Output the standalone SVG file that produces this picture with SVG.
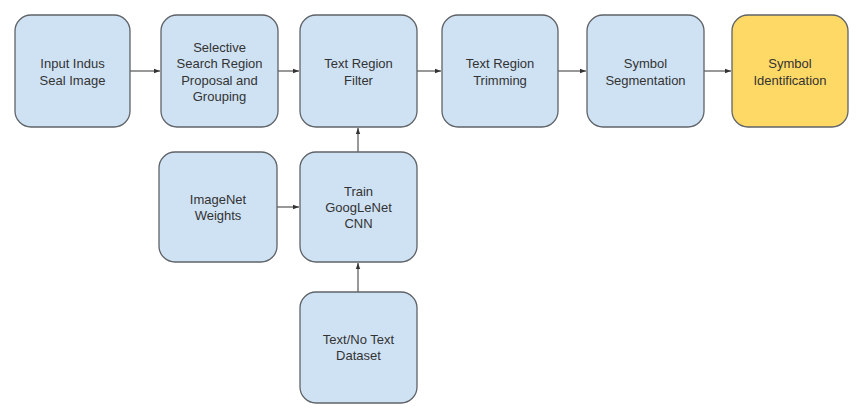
<svg xmlns="http://www.w3.org/2000/svg" width="868" height="410" viewBox="0 0 868 410">
<style>
.box{fill:#cfe2f3;stroke:#5f6368;stroke-width:1.3}
.yel{fill:#ffd966;stroke:#5f6368;stroke-width:1.3}
text{font-family:"Liberation Sans",Arial,sans-serif;font-size:13px;fill:#333;text-anchor:middle}
.c{stroke:#333;stroke-width:1;fill:none;marker-end:url(#ah)}
</style>
<defs>
<marker id="ah" viewBox="0 0 6 6" refX="6" refY="3" markerWidth="6" markerHeight="6" orient="auto" markerUnits="userSpaceOnUse">
<path d="M0,0.8 L6,3 L0,5.2 z" fill="#333"/>
</marker>
</defs>
<g id="connectors">
<line class="c" x1="130" y1="71" x2="160" y2="71"/>
<line class="c" x1="278" y1="71" x2="299" y2="71"/>
<line class="c" x1="417" y1="71" x2="441" y2="71"/>
<line class="c" x1="558" y1="71" x2="586" y2="71"/>
<line class="c" x1="704" y1="71" x2="731" y2="71"/>
<line class="c" x1="277" y1="207" x2="299" y2="207"/>
<line class="c" x1="358" y1="152" x2="358" y2="128"/>
<line class="c" x1="358" y1="292" x2="358" y2="263"/>
</g>
<g id="n1"><rect class="box" x="15" y="15" width="115" height="112" rx="16"/><text x="72.5" y="68">Input Indus</text><text x="72.5" y="84.5">Seal Image</text></g>
<g id="n2"><rect class="box" x="161" y="15" width="117" height="112" rx="16"/><text x="219.5" y="52">Selective</text><text x="219.5" y="68">Search Region</text><text x="219.5" y="84.5">Proposal and</text><text x="219.5" y="101">Grouping</text></g>
<g id="n3"><rect class="box" x="300" y="15" width="117" height="112" rx="16"/><text x="358.5" y="68">Text Region</text><text x="358.5" y="84.5">Filter</text></g>
<g id="n4"><rect class="box" x="442" y="15" width="116" height="112" rx="16"/><text x="500" y="68">Text Region</text><text x="500" y="84.5">Trimming</text></g>
<g id="n5"><rect class="box" x="587" y="15" width="117" height="112" rx="16"/><text x="645.5" y="68">Symbol</text><text x="645.5" y="84.5">Segmentation</text></g>
<g id="n6"><rect class="yel" x="732" y="15" width="116" height="112" rx="16"/><text x="790" y="68">Symbol</text><text x="790" y="84.5">Identification</text></g>
<g id="n7"><rect class="box" x="159" y="152" width="118" height="110" rx="16"/><text x="218" y="204">ImageNet</text><text x="218" y="220">Weights</text></g>
<g id="n8"><rect class="box" x="300" y="152" width="117" height="110" rx="16"/><text x="358.5" y="196">Train</text><text x="358.5" y="212">GoogLeNet</text><text x="358.5" y="228">CNN</text></g>
<g id="n9"><rect class="box" x="300" y="292" width="117" height="111" rx="16"/><text x="358.5" y="344">Text/No Text</text><text x="358.5" y="360">Dataset</text></g>
</svg>
